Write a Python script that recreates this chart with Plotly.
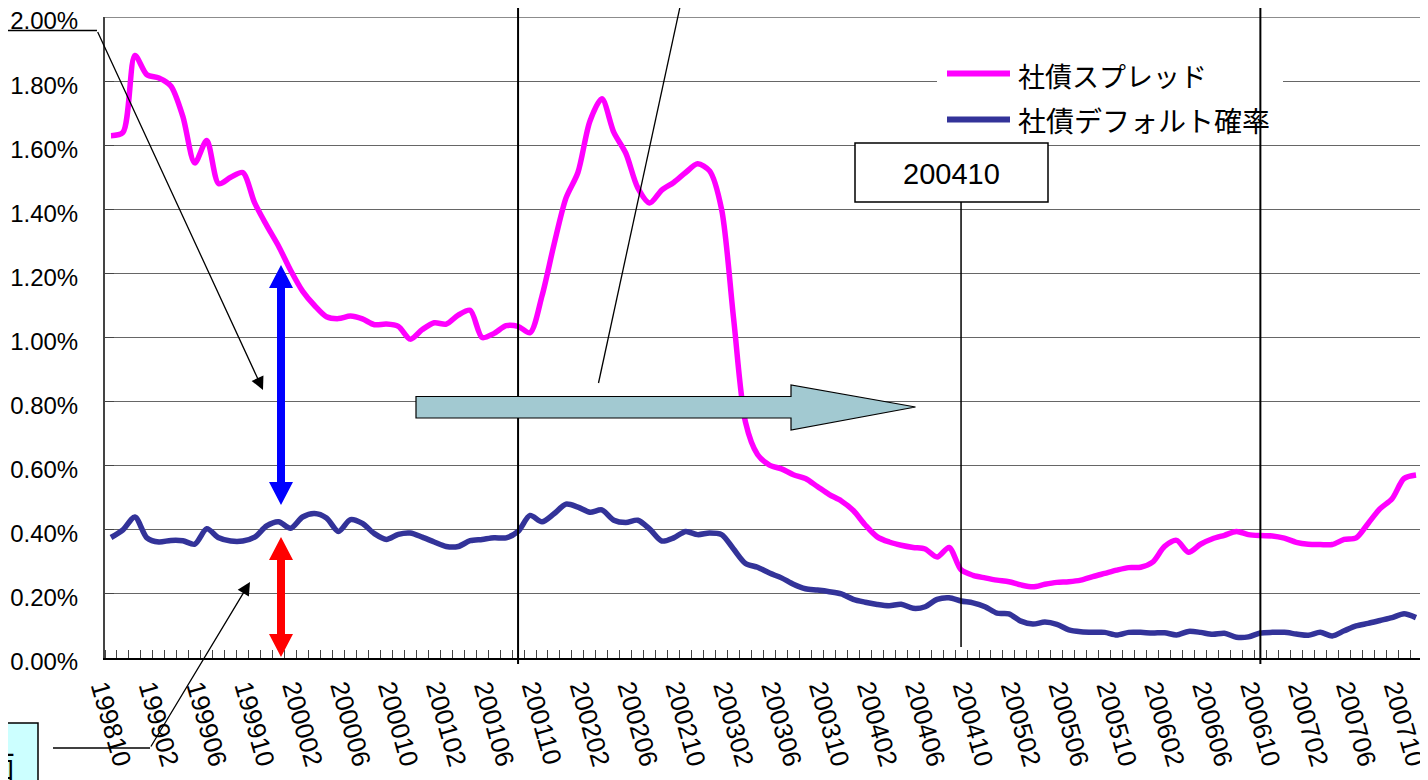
import plotly.graph_objects as go

# ---------------- data (percent) ----------------
tick_labels = ["199810", "199902", "199906", "199910", "200002", "200006", "200010",
               "200102", "200106", "200110", "200202", "200206", "200210", "200302",
               "200306", "200310", "200402", "200406", "200410", "200502", "200506",
               "200510", "200602", "200606", "200610", "200702", "200706", "200710"]

y_ticks = [0.0, 0.2, 0.4, 0.6, 0.8, 1.0, 1.2, 1.4, 1.6, 1.8, 2.0]

spread = [1.63, 1.64, 1.88, 1.82, 1.81, 1.785, 1.69, 1.545, 1.615, 1.48,
          1.50, 1.515, 1.42, 1.35, 1.285, 1.21, 1.145, 1.10, 1.065, 1.059,
          1.067, 1.058, 1.04, 1.042, 1.035, 0.995, 1.025, 1.046, 1.042, 1.07,
          1.085, 1.0, 1.013, 1.037, 1.035, 1.015, 1.13, 1.29, 1.435, 1.515,
          1.675, 1.745, 1.64, 1.575, 1.467, 1.42, 1.46, 1.484, 1.515, 1.542,
          1.52, 1.40, 1.06, 0.735, 0.635, 0.602, 0.59, 0.572, 0.56, 0.535,
          0.51, 0.49, 0.46, 0.415, 0.378, 0.362, 0.352, 0.345, 0.34, 0.315,
          0.345, 0.275, 0.258, 0.25, 0.243, 0.238, 0.228, 0.222, 0.23, 0.236,
          0.238, 0.243, 0.254, 0.264, 0.274, 0.282, 0.283, 0.299, 0.348, 0.367,
          0.33, 0.355, 0.372, 0.383, 0.395, 0.385, 0.382, 0.381, 0.374, 0.361,
          0.355, 0.354, 0.354, 0.37, 0.375, 0.42, 0.466, 0.497, 0.56, 0.571]

default_prob = [0.376, 0.40, 0.44, 0.375, 0.362, 0.367, 0.366, 0.355, 0.403, 0.375,
                0.365, 0.365, 0.377, 0.412, 0.425, 0.405, 0.44, 0.451, 0.437, 0.395,
                0.432, 0.42, 0.388, 0.37, 0.386, 0.39, 0.377, 0.362, 0.348, 0.348,
                0.366, 0.37, 0.375, 0.375, 0.395, 0.445, 0.425, 0.45, 0.48, 0.471,
                0.455, 0.462, 0.43, 0.423, 0.43, 0.402, 0.365, 0.375, 0.395, 0.385,
                0.39, 0.385, 0.34, 0.295, 0.283, 0.265, 0.25, 0.23, 0.216, 0.212,
                0.207, 0.2, 0.183, 0.174, 0.167, 0.163, 0.168, 0.155, 0.16, 0.183,
                0.188, 0.178, 0.172, 0.16, 0.14, 0.138, 0.115, 0.106, 0.112, 0.105,
                0.088, 0.082, 0.08, 0.08, 0.072, 0.08, 0.08, 0.078, 0.079, 0.072,
                0.083, 0.08, 0.074, 0.077, 0.065, 0.066, 0.078, 0.08, 0.08, 0.075,
                0.071, 0.08, 0.069, 0.085, 0.1, 0.108, 0.117, 0.126, 0.138, 0.126]

series_names = ["社債スプレッド", "社債デフォルト確率"]
marker_label = "200410"

# month index positions
x_idx = list(range(len(spread)))
tick_pos = [i * 4 for i in range(len(tick_labels))]

# ---------------- layout geometry ----------------
# page coordinates; the html body has an 8px margin
OFF = 8
PAGE_W, PAGE_H = 1428, 780
PL, PT, PW, PH = 105, 17, 1317, 641          # plot area on the page
FW, FH = PAGE_W - OFF, PAGE_H - OFF          # figure size
ML, MT = PL - OFF, PT - OFF
MR, MB = FW - ML - PW, FH - MT - PH


def px(x):
    return (x - PL) / PW


def py(y):
    return (PT + PH - y) / PH


fig = go.Figure()
fig.add_trace(go.Scatter(x=x_idx, y=[v / 100 for v in spread], mode="lines",
                         line=dict(color="#FF00FF", width=5.5, shape="spline", smoothing=0.8),
                         name=series_names[0], showlegend=False))
fig.add_trace(go.Scatter(x=x_idx, y=[v / 100 for v in default_prob], mode="lines",
                         line=dict(color="#333399", width=5.5, shape="spline", smoothing=0.8),
                         name=series_names[1], showlegend=False))

shapes = []
# top gridline (2.00%)
shapes.append(dict(type="line", xref="paper", yref="y", x0=0, x1=1, y0=y_ticks[-1] / 100,
                   y1=y_ticks[-1] / 100, line=dict(color="#666666", width=1.5), layer="below"))
# legend background
shapes.append(dict(type="rect", xref="paper", yref="paper", x0=px(937), x1=px(1283),
                   y0=py(143), y1=py(47), fillcolor="white", line=dict(width=0), layer="above"))
# legend samples
shapes.append(dict(type="line", xref="paper", yref="paper", x0=px(947), x1=px(1010),
                   y0=py(73.5), y1=py(73.5), line=dict(color="#FF00FF", width=6), layer="above"))
shapes.append(dict(type="line", xref="paper", yref="paper", x0=px(947), x1=px(1010),
                   y0=py(119.5), y1=py(119.5), line=dict(color="#333399", width=6), layer="above"))
# vertical marker lines
for xi in (34, 96):
    shapes.append(dict(type="line", xref="x", yref="paper", x0=xi, x1=xi,
                       y0=py(0), y1=py(664), line=dict(color="black", width=2), layer="above"))
shapes.append(dict(type="line", xref="x", yref="paper", x0=71, x1=71,
                   y0=py(202), y1=py(647), line=dict(color="black", width=1.5), layer="above"))
# 200410 box
shapes.append(dict(type="rect", xref="paper", yref="paper", x0=px(855), x1=px(1048),
                   y0=py(202), y1=py(143), fillcolor="white", line=dict(color="black", width=1.5),
                   layer="above"))


def poly(points):
    return "M " + " L ".join(f"{px(a):.5f},{py(b):.5f}" for a, b in points) + " Z"


# blue double arrow
shapes.append(dict(type="path", xref="paper", yref="paper",
                   path=poly([(281, 265), (293, 288), (285, 288), (285, 482), (293, 482),
                              (281, 505), (269, 482), (277, 482), (277, 288), (269, 288)]),
                   fillcolor="#0000FF", line=dict(width=0), layer="above"))
# red double arrow
shapes.append(dict(type="path", xref="paper", yref="paper",
                   path=poly([(281, 537), (293, 560), (285, 560), (285, 634), (293, 634),
                              (281, 657), (269, 634), (277, 634), (277, 560), (269, 560)]),
                   fillcolor="#FF0000", line=dict(width=0), layer="above"))
# teal block arrow
shapes.append(dict(type="path", xref="paper", yref="paper",
                   path=poly([(416, 396.5), (791, 396.5), (791, 385), (915.5, 407),
                              (791, 430), (791, 418), (416, 418)]),
                   fillcolor="#A2C9D1", line=dict(color="black", width=1.2), layer="above"))
# callout lines
shapes.append(dict(type="line", xref="paper", yref="paper", x0=px(0), x1=px(97),
                   y0=py(30.5), y1=py(30.5), line=dict(color="black", width=1.3), layer="above"))
shapes.append(dict(type="line", xref="paper", yref="paper", x0=px(53), x1=px(150),
                   y0=py(748), y1=py(748), line=dict(color="black", width=1.3), layer="above"))
shapes.append(dict(type="line", xref="paper", yref="paper", x0=px(681.5), x1=px(598.5),
                   y0=py(0), y1=py(383), line=dict(color="black", width=1.3), layer="above"))
# bottom-left callout box
shapes.append(dict(type="rect", xref="paper", yref="paper", x0=px(-2), x1=px(38),
                   y0=py(790), y1=py(723), fillcolor="#CCFFFF", line=dict(color="black", width=1.5),
                   layer="above"))

annotations = []
annotations.append(dict(xref="paper", yref="paper", x=px(1016), y=py(75), xanchor="left",
                        yanchor="middle", showarrow=False, text=series_names[0],
                        font=dict(family="Noto Sans CJK JP", size=27, color="black")))
annotations.append(dict(xref="paper", yref="paper", x=px(1016), y=py(120), xanchor="left",
                        yanchor="middle", showarrow=False, text=series_names[1],
                        font=dict(family="Noto Sans CJK JP", size=28, color="black")))
annotations.append(dict(xref="paper", yref="paper", x=px(951.5), y=py(174), xanchor="center",
                        yanchor="middle", showarrow=False, text=marker_label,
                        font=dict(family="Liberation Sans, Arial", size=29, color="black")))
# arrows
annotations.append(dict(xref="paper", yref="paper", x=px(263), y=py(390), ax=97 - 263, ay=30.5 - 390,
                        axref="pixel", ayref="pixel", text="", showarrow=True, arrowhead=2,
                        arrowsize=2, arrowwidth=1.3, arrowcolor="black"))
annotations.append(dict(xref="paper", yref="paper", x=px(250), y=py(582), ax=150 - 250, ay=748 - 582,
                        axref="pixel", ayref="pixel", text="", showarrow=True, arrowhead=2,
                        arrowsize=2, arrowwidth=1.3, arrowcolor="black"))
annotations.append(dict(xref="paper", yref="paper", x=px(17), y=py(764), xanchor="right",
                        yanchor="middle", showarrow=False, text="面",
                        font=dict(family="Noto Sans CJK JP", size=30, color="black")))

fig.update_layout(
    width=FW, height=FH,
    margin=dict(l=ML, r=MR, t=MT, b=MB, autoexpand=False),
    paper_bgcolor="white", plot_bgcolor="white",
    showlegend=False,
    shapes=shapes, annotations=annotations,
    xaxis=dict(range=[-0.5, 109.5], tickmode="array", tickvals=tick_pos, ticktext=tick_labels,
               tickangle=74, ticks="", showgrid=False, zeroline=False,
               showline=True, linecolor="black", linewidth=2,
               tickfont=dict(family="Liberation Sans, Arial", size=26, color="black"),
               ticklabelstandoff=3, ticklabelshift=-8, ticklabeloverflow="allow", automargin=False,
               minor=dict(tickmode="linear", tick0=-0.5, dtick=1, ticks="inside", ticklen=8,
                          tickcolor="#444444", tickwidth=1, showgrid=False)),
    yaxis=dict(range=[0, 0.020002], tickmode="array", tickvals=[v / 100 for v in y_ticks],
               tickformat=".2%", showgrid=True,
               gridcolor="#666666", gridwidth=1.2, zeroline=False,
               showline=True, linecolor="#444444", linewidth=2, mirror=True,
               ticks="inside", ticklen=9, tickcolor="#444444",
               tickfont=dict(family="Liberation Sans, Arial", size=24, color="black"),
               ticklabelstandoff=20, ticklabelshift=4, ticklabeloverflow="allow",
               automargin=False),
)

fig.write_html("out.html")
